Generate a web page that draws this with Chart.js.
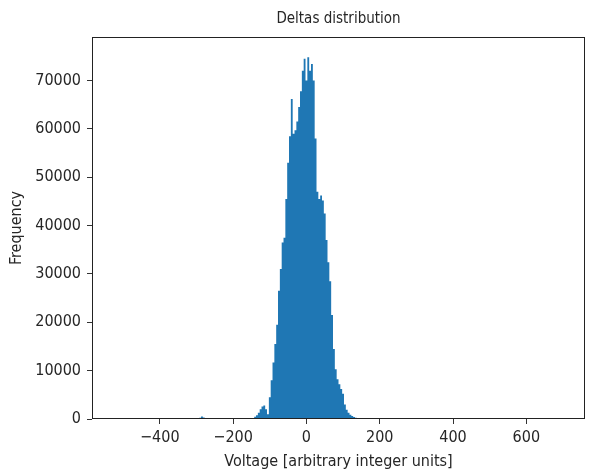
<!DOCTYPE html>
<html>
<head>
<meta charset="utf-8">
<script src="https://cdn.jsdelivr.net/npm/chart.js@4.4.1/dist/chart.umd.min.js"></script>
<style>
  html, body { margin: 0; padding: 0; background: #fff; }
  #wrap { width: 593px; height: 476px; }
</style>
</head>
<body>
<div id="wrap"><canvas id="histChart" width="593" height="476"></canvas></div>
<script>
// bin centres (voltage units, 5 wide) and counts
const binCenters = [
  -295, -290, -285, -280, -275,
  -150, -145, -140, -135, -130, -125, -120, -115, -110, -105, -100,
  -95, -90, -85, -80, -75, -70, -65, -60, -55, -50,
  -45, -40, -35, -30, -25, -20, -15, -10, -5, 0,
  5, 10, 15, 20, 25, 30, 35, 40, 45, 50,
  55, 60, 65, 70, 75, 80, 85, 90, 95, 100,
  105, 110, 115, 120, 125, 130, 135, 140, 145
];
const counts = [
  0, 250, 500, 300, 0,
  0, 200, 450, 800, 1300, 2000, 2600, 2800, 2000, 1000, 4500,
  8000, 11700, 15500, 19500, 26500, 31000, 36500, 37500, 45500, 53000,
  58500, 66200, 59000, 59700, 61500, 64500, 67800, 72000, 74500, 70000,
  74800, 72000, 73400, 70000, 58000, 47000, 45500, 46200, 45200, 42500,
  37000, 32400, 28500, 21500, 14500, 10300, 8200, 7200, 6200, 5200,
  3000, 1900, 1300, 900, 600, 400, 250, 80, 0
];
const xTicks = [-400, -200, 0, 200, 400, 600];
const yTicks = [0, 10000, 20000, 30000, 40000, 50000, 60000, 70000];

const FONT = "'DejaVu Sans Condensed', 'DejaVu Sans', sans-serif";
const INK = "#262626";
const BLUE = "#1f77b4";

// matplotlib style box around the plot
const frame = {
  id: "frame",
  afterDraw(chart) {
    const { ctx, chartArea: a } = chart;
    ctx.save();
    ctx.strokeStyle = "#222";
    ctx.lineWidth = 1;
    ctx.strokeRect(Math.round(a.left) + 0.5, Math.round(a.top) + 0.5,
      Math.round(a.right - a.left) - 1, Math.round(a.bottom - a.top) - 1);
    ctx.restore();
  }
};

const ctx = document.getElementById("histChart").getContext("2d");
new Chart(ctx, {
  type: "line",
  data: {
    datasets: [{
      label: "Deltas",
      data: binCenters.map((x, i) => ({ x: x, y: counts[i] })),
      stepped: "middle",
      fill: "origin",
      backgroundColor: BLUE,
      borderColor: "rgba(0,0,0,0)",
      borderWidth: 0,
      pointRadius: 0,
      tension: 0
    }]
  },
  options: {
    responsive: false,
    animation: false,
    layout: { padding: { left: 0, right: 8, top: 0, bottom: 0 } },
    plugins: {
      legend: { display: false },
      tooltip: { enabled: false },
      title: {
        display: true,
        fullSize: false,
        text: "Deltas distribution",
        color: INK,
        font: { family: FONT, size: 15, weight: "normal" },
        padding: { top: 10, bottom: 9 }
      }
    },
    scales: {
      x: {
        type: "linear",
        offset: false,
        min: -585,
        max: 760,
        afterFit(scale) { scale.height = 57; },
        afterBuildTicks(scale) { scale.ticks = xTicks.map(v => ({ value: v })); },
        grid: { offset: false, drawOnChartArea: false, drawTicks: true, tickLength: 5, color: "#333", tickColor: "#333" },
        border: { display: false },
        ticks: {
          color: INK,
          padding: 4,
          maxRotation: 0,
          font: { family: FONT, size: 16 },
          callback: v => (v < 0 ? "\u2212" + Math.abs(v) : String(v))
        },
        title: {
          display: true,
          text: "Voltage [arbitrary integer units]",
          color: INK,
          font: { family: FONT, size: 16 },
          padding: { top: 0, bottom: 5 }
        }
      },
      y: {
        min: 0,
        max: 79000,
        afterFit(scale) { scale.width = 92; },
        afterBuildTicks(scale) { scale.ticks = yTicks.map(v => ({ value: v })); },
        grid: { drawOnChartArea: false, drawTicks: true, tickLength: 5, color: "#333", tickColor: "#333" },
        border: { display: false },
        ticks: {
          color: INK,
          padding: 6,
          font: { family: FONT, size: 16 },
          callback: v => String(v)
        },
        title: {
          display: true,
          text: "Frequency",
          color: INK,
          font: { family: FONT, size: 16 },
          padding: { top: 7, bottom: 0 }
        }
      }
    }
  },
  plugins: [frame]
});
</script>
</body>
</html>
